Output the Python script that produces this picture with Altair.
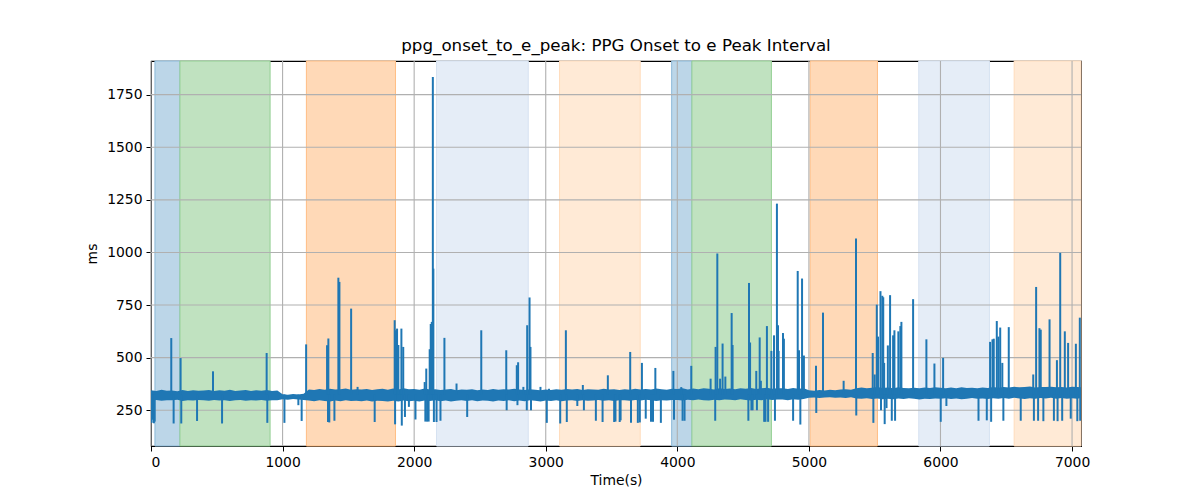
import pandas as pd
import altair as alt

# shaded phases (seconds)
span_start = [30, 220, 1181, 2170, 3105, 3957, 4111, 5009, 5835, 6560]
span_end = [220, 905, 1858, 2867, 3718, 4111, 4715, 5521, 6372, 7068]
span_kind = ['a', 'b', 'c', 'd', 'e', 'a', 'b', 'c', 'd', 'e']

# beat-to-beat jitter of the interval: upper / lower edge of the dense trace, every 40 s
band_t = list(range(0, 7041, 40)) + [7068]
band_hi = [
    345, 341, 347, 343, 344, 340, 346, 342, 345, 343,
    344, 346, 341, 345, 343, 347, 342, 344, 346, 341,
    345, 343, 346, 342, 344, 326, 324, 327, 325, 328,
    349, 346, 351, 347, 352, 348, 350, 353, 347, 350,
    348, 351, 346, 350, 352, 347, 353, 349, 355, 350,
    351, 347, 353, 349, 350, 346, 348, 351, 345, 349,
    347, 350, 345, 349, 346, 351, 347, 350, 348, 352,
    349, 346, 350, 347, 345, 349, 346, 350, 347, 351,
    348, 351, 346, 350, 349, 347, 352, 348, 350, 346,
    350, 347, 352, 349, 351, 348, 353, 350, 347, 352,
    351, 354, 349, 353, 350, 355, 352, 349, 354, 351,
    353, 350, 355, 352, 356, 351, 354, 357, 352, 355,
    354, 351, 356, 352, 355, 345, 343, 346, 344, 347,
    345, 348, 350, 347, 355, 358, 354, 357, 360, 356,
    358, 355, 359, 356, 354, 357, 355, 358, 356, 359,
    357, 354, 358, 355, 359, 356, 357, 354, 358, 356,
    360, 357, 361, 358, 362, 359, 360, 363, 358, 361,
    360, 362, 359, 361, 358, 362, 360, 359,
]
band_lo = [
    296, 299, 295, 298, 297, 300, 294, 298, 296, 299,
    297, 295, 299, 296, 298, 294, 297, 299, 295, 298,
    296, 299, 295, 298, 297, 302, 300, 303, 301, 299,
    296, 293, 297, 294, 292, 296, 293, 297, 294, 295,
    293, 296, 292, 295, 294, 291, 295, 292, 296, 293,
    295, 292, 296, 294, 297, 293, 296, 292, 295, 297,
    294, 297, 293, 296, 295, 292, 296, 294, 297, 293,
    296, 293, 297, 295, 292, 296, 294, 297, 293, 296,
    297, 294, 298, 295, 296, 299, 295, 297, 294, 298,
    298, 295, 299, 296, 300, 297, 294, 298, 296, 299,
    299, 296, 300, 297, 301, 298, 296, 300, 297, 301,
    300, 297, 302, 299, 296, 300, 298, 302, 299, 301,
    301, 298, 302, 300, 303, 309, 311, 308, 310, 312,
    309, 311, 308, 312, 306, 304, 307, 303, 306, 302,
    305, 302, 306, 303, 307, 304, 301, 305, 303, 306,
    304, 307, 303, 306, 302, 305, 308, 304, 306, 303,
    307, 304, 308, 305, 309, 306, 303, 307, 305, 308,
    306, 309, 305, 308, 304, 307, 305, 308,
]

# single-beat outliers (time, value)
spike_t = [
    5, 12, 22, 28, 154, 172, 225, 230, 350, 471, 540, 879, 884, 1014, 1120,
    1145, 1179, 1338, 1348, 1345, 1355, 1394, 1424, 1432, 1521, 1570, 1700,
    1852, 1855, 1862, 1870, 1876, 1880, 1903, 1906, 1917, 1930, 1960, 2010,
    2080, 2092, 2085, 2098, 2110, 2118, 2126, 2134, 2142, 2146, 2150, 2170,
    2200, 2230, 2322, 2403, 2510, 2700, 2703, 2780, 2790, 2785, 2830, 2856,
    2859, 2877, 2884, 2888, 2960, 3008, 3025, 3110, 3153, 3160, 3240, 3282,
    3290, 3381, 3432, 3472, 3520, 3530, 3562, 3569, 3642, 3648, 3700, 3715,
    3731, 3760, 3800, 3815, 3833, 3875, 3970, 3975, 4030, 4040, 4055, 4106,
    4253, 4291, 4288, 4304, 4325, 4344, 4365, 4413, 4420, 4540, 4545, 4553,
    4563, 4572, 4600, 4605, 4626, 4635, 4660, 4670, 4681, 4690, 4715, 4735,
    4742, 4757, 4765, 4770, 4803, 4810, 4880, 4915, 4925, 4935, 4948, 4962,
    5054, 5056, 5107, 5264, 5358, 5360, 5485, 5490, 5500, 5516, 5525, 5544,
    5548, 5558, 5565, 5572, 5576, 5590, 5600, 5617, 5630, 5640, 5650, 5655,
    5680, 5695, 5703, 5792, 5893, 5954, 6002, 6020, 6045, 6289, 6352, 6377,
    6385, 6395, 6405, 6428, 6440, 6454, 6470, 6478, 6519, 6610, 6705, 6710,
    6727, 6742, 6752, 6762, 6782, 6829, 6862, 6885, 6890, 6910, 6925, 6945,
    6970, 6990, 7029, 7040, 7059, 7062,
]
spike_v = [
    190, 205, 188, 196, 593, 187, 498, 187, 199, 435, 187, 522, 190, 190, 274,
    199, 563, 559, 591, 194, 192, 200, 880, 860, 733, 361, 194,
    678, 183, 630, 638, 480, 560, 638, 177, 551, 218, 266, 206,
    384, 448, 196, 196, 196, 540, 660, 670, 1834, 923, 194, 194,
    200, 594, 377, 218, 630, 535, 250, 464, 478, 274, 361, 250,
    654, 786, 551, 250, 361, 190, 352, 187, 630, 194, 270, 370,
    250, 200, 194, 416, 194, 196, 194, 202, 527, 190, 190, 192,
    475, 210, 195, 195, 451, 190, 437, 205, 360, 200, 200, 461,
    400, 551, 200, 995, 400, 567, 410, 712, 560, 200, 855, 572,
    250, 250, 437, 250, 596, 390, 195, 195, 650, 195, 532, 606,
    200, 1232, 654, 532, 617, 590, 200, 912, 535, 182, 876, 510,
    461, 237, 714, 390, 1066, 225, 522, 190, 420, 752, 600, 816,
    250, 794, 787, 475, 184, 260, 558, 797, 200, 606, 630, 200,
    625, 650, 670, 778, 587, 472, 195, 499, 270, 200, 202, 575,
    195, 587, 590, 674, 600, 643, 475, 200, 645, 200, 420, 200,
    836, 200, 640, 633, 198, 682, 200, 488, 198, 998, 200, 625,
    570, 210, 566, 198, 690, 200,
]

x_ticks = [0, 1000, 2000, 3000, 4000, 5000, 6000, 7000]
y_ticks = [250, 500, 750, 1000, 1250, 1500, 1750]

df_span = pd.DataFrame({'start': span_start, 'end': span_end, 'kind': span_kind})
df_band = pd.DataFrame({'t': band_t, 'lo': band_lo, 'hi': band_hi})
df_spike = pd.DataFrame({'t': spike_t, 'v': spike_v})
df_spike['base'] = 325
df_xg = pd.DataFrame({'t': x_ticks})
df_yg = pd.DataFrame({'v': y_ticks})

x_scale = alt.Scale(domain=[0, 7068], nice=False, zero=False)
y_scale = alt.Scale(domain=[80, 1910], nice=False, zero=False)
kinds = ['a', 'b', 'c', 'd', 'e']
# tab10 colours blended on white (alpha 0.3 / 0.12 / 0.17), edges drawn a touch darker
fill_scale = alt.Scale(domain=kinds, range=['#bcd6e8', '#c0e2c0', '#ffd9b7', '#e5edf7', '#ffead6'])
edge_scale = alt.Scale(domain=kinds, range=['#8cbad9', '#93cf93', '#ffbe84', '#d6e2f1', '#ffdcbc'])

axis_style = dict(grid=False, format='d', labelFontSize=13.9, titleFontSize=13.9,
                  tickSize=5, tickColor='black', domain=False, labelColor='black', titleColor='black',
                  labelPadding=4, titleFontWeight='normal', labelFont='DejaVu Sans',
                  titleFont='DejaVu Sans')
x_axis = alt.Axis(values=x_ticks, titlePadding=5, **axis_style)
y_axis = alt.Axis(values=y_ticks, titlePadding=7, **axis_style)

spans = alt.Chart(df_span).mark_rect(strokeWidth=1).encode(
    x=alt.X('start:Q', scale=x_scale, axis=x_axis, title='Time(s)'),
    x2='end:Q',
    fill=alt.Fill('kind:N', scale=fill_scale, legend=None),
    stroke=alt.Stroke('kind:N', scale=edge_scale, legend=None),
)

xgrid = alt.Chart(df_xg).mark_rule(color='#b0b0b0', strokeWidth=1.1).encode(
    x=alt.X('t:Q', scale=x_scale))
ygrid = alt.Chart(df_yg).mark_rule(color='#b0b0b0', strokeWidth=1.1).encode(
    y=alt.Y('v:Q', scale=y_scale, axis=y_axis, title='ms'))

band = alt.Chart(df_band).mark_area(color='#1f77b4', opacity=1, clip=True).encode(
    x=alt.X('t:Q', scale=x_scale),
    y=alt.Y('lo:Q', scale=y_scale),
    y2='hi:Q',
)
spikes = alt.Chart(df_spike).mark_rule(color='#1f77b4', strokeWidth=2, clip=True).encode(
    x=alt.X('t:Q', scale=x_scale),
    y=alt.Y('base:Q', scale=y_scale),
    y2='v:Q',
)

chart = alt.layer(spans, xgrid, ygrid, band, spikes).properties(
    width=930, height=385,
    autosize=alt.AutoSizeParams(type='none'),
    padding={'left': 143, 'top': 53, 'right': 111, 'bottom': 46},
    title=alt.TitleParams('ppg_onset_to_e_peak: PPG Onset to e Peak Interval', fontSize=16.7,
                          font='DejaVu Sans', fontWeight='normal', color='black',
                          baseline='alphabetic', offset=-7, anchor='middle'),
).configure_view(stroke='black', strokeWidth=1.1)

chart.save('out.html', embed_options={'renderer': 'svg', 'actions': False})
